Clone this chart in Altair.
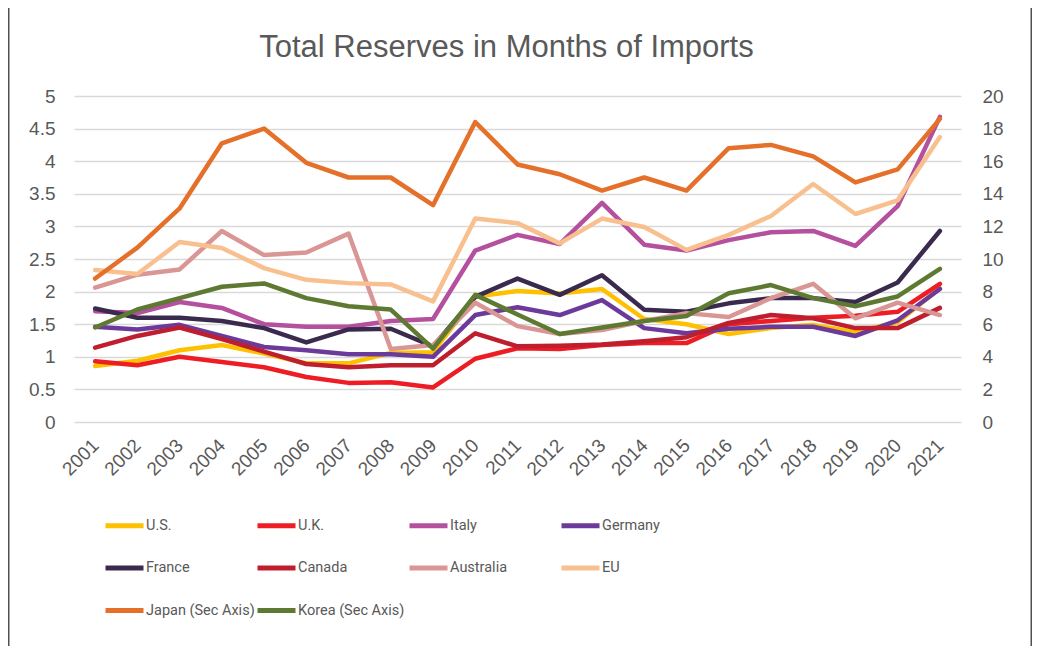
import altair as alt
import pandas as pd

years = [str(y) for y in range(2001, 2022)]

countries = ["U.S.", "U.K.", "Italy", "Germany", "France", "Canada",
             "Australia", "EU", "Japan (Sec Axis)", "Korea (Sec Axis)"]
colors = ["#FFC000", "#EE1D24", "#B4509E", "#6B3A9A", "#3A2B4E", "#BE1E2D",
          "#D99694", "#F9C08F", "#E4702A", "#5E7A32"]

us = [0.86, 0.94, 1.10, 1.18, 1.05, 0.90, 0.90, 1.06, 1.07, 1.92, 2.01, 1.97, 2.04, 1.58, 1.50, 1.35, 1.44, 1.49, 1.38, 1.53, 2.05]
uk = [0.93, 0.87, 1.00, 0.92, 0.84, 0.69, 0.60, 0.61, 0.53, 0.97, 1.13, 1.12, 1.18, 1.21, 1.21, 1.50, 1.55, 1.60, 1.63, 1.69, 2.12]
italy = [1.70, 1.67, 1.84, 1.75, 1.50, 1.46, 1.46, 1.55, 1.58, 2.63, 2.87, 2.73, 3.36, 2.72, 2.63, 2.79, 2.91, 2.93, 2.70, 3.31, 4.68]
germany = [1.46, 1.42, 1.49, 1.32, 1.15, 1.10, 1.04, 1.04, 1.00, 1.64, 1.76, 1.64, 1.87, 1.44, 1.36, 1.43, 1.46, 1.46, 1.32, 1.56, 2.04]
france = [1.74, 1.60, 1.60, 1.55, 1.44, 1.22, 1.42, 1.43, 1.16, 1.92, 2.20, 1.95, 2.25, 1.72, 1.69, 1.82, 1.90, 1.90, 1.84, 2.14, 2.93]
canada = [1.14, 1.32, 1.45, 1.27, 1.08, 0.89, 0.84, 0.87, 0.87, 1.36, 1.16, 1.17, 1.19, 1.24, 1.30, 1.52, 1.64, 1.59, 1.44, 1.44, 1.75]
australia = [2.06, 2.26, 2.34, 2.93, 2.56, 2.60, 2.89, 1.12, 1.18, 1.83, 1.47, 1.35, 1.41, 1.55, 1.67, 1.61, 1.90, 2.12, 1.59, 1.83, 1.64]
eu = [2.33, 2.27, 2.76, 2.67, 2.36, 2.18, 2.13, 2.11, 1.85, 3.12, 3.05, 2.74, 3.12, 2.99, 2.64, 2.87, 3.16, 3.65, 3.19, 3.40, 4.37]
japan = [8.8, 10.7, 13.1, 17.1, 18.0, 15.9, 15.0, 15.0, 13.3, 18.4, 15.8, 15.2, 14.2, 15.0, 14.2, 16.8, 17.0, 16.3, 14.7, 15.5, 18.6]
korea = [5.8, 6.9, 7.6, 8.3, 8.5, 7.6, 7.1, 6.9, 4.5, 7.8, 6.6, 5.4, 5.8, 6.2, 6.5, 7.9, 8.4, 7.6, 7.1, 7.7, 9.4]

left_ticks = [0, 0.5, 1, 1.5, 2, 2.5, 3, 3.5, 4, 4.5, 5]
right_ticks = [0, 2, 4, 6, 8, 10, 12, 14, 16, 18, 20]

primary = {"U.S.": us, "U.K.": uk, "Italy": italy, "Germany": germany,
           "France": france, "Canada": canada, "Australia": australia, "EU": eu}
secondary = {"Japan (Sec Axis)": japan, "Korea (Sec Axis)": korea}


def to_frame(series):
    rows = []
    for name, vals in series.items():
        for yr, v in zip(years, vals):
            rows.append({"year": yr, "country": name, "value": v})
    return pd.DataFrame(rows)


df_p = to_frame(primary)
df_s = to_frame(secondary)

TEXT = "#595959"
FONT = "Liberation Sans"

color = alt.Color(
    "country:N",
    title=None,
    scale=alt.Scale(domain=countries, range=colors),
    legend=alt.Legend(
        orient="none", legendX=29, legendY=408, columns=4, direction="horizontal",
        gridAlign="all",
        symbolType="stroke", symbolSize=1444, symbolStrokeWidth=5,
        labelFont="Roboto", labelFontSize=14.5, labelColor=TEXT,
        labelOffset=0, columnPadding=-13, rowPadding=10.5, padding=0, labelLimit=400,
    ),
)

xenc = alt.X(
    "year:O",
    sort=years,
    scale=alt.Scale(type="point", padding=0.5),
    axis=alt.Axis(title=None, labelAngle=-45, labelAlign="right", labelBaseline="middle",
                  labelPadding=20, ticks=False, domain=False, grid=False,
                  labelFont=FONT, labelFontSize=19, labelColor=TEXT),
)

line_kw = dict(strokeWidth=4.5, strokeJoin="round", strokeCap="round")

left = alt.Chart(df_p).mark_line(**line_kw).encode(
    x=xenc,
    y=alt.Y("value:Q", scale=alt.Scale(domain=[0, 5], nice=False),
            axis=alt.Axis(title=None, orient="left", values=left_ticks, format=".1~f",
                          grid=True, gridColor="#D9D9D9", gridWidth=1.5, domain=False,
                          ticks=False, labelPadding=19, labelFont=FONT, labelFontSize=19,
                          labelColor=TEXT)),
    color=color,
)

right = alt.Chart(df_s).mark_line(**line_kw).encode(
    x=xenc,
    y=alt.Y("value:Q", scale=alt.Scale(domain=[0, 20], nice=False),
            axis=alt.Axis(title=None, orient="right", values=right_ticks, grid=False,
                          domain=False, ticks=False, labelPadding=21, labelFont=FONT,
                          labelFontSize=19, labelColor=TEXT)),
    color=color,
)

# thin outer chart border (left and right edges of the chart box)
frame = alt.Chart(pd.DataFrame({"k": [0]})).mark_rect(
    fillOpacity=0, stroke="#505050", strokeWidth=1.5
).encode(
    x=alt.value(-65.25), x2=alt.value(957.25), y=alt.value(-100), y2=alt.value(570)
)

chart = alt.layer(frame, left, right).resolve_scale(y="independent").properties(
    width=887,
    height=326,
    title=alt.TitleParams(
        "Total Reserves in Months of Imports", font=FONT, fontSize=31,
        fontWeight="normal", color=TEXT, anchor="middle", frame="group",
        baseline="alphabetic", offset=-93, dx=-11,
    ),
    padding={"left": 66, "top": 88, "right": 71, "bottom": 224},
    autosize=alt.AutoSizeParams(type="none"),
).configure_view(strokeWidth=0)

chart.save("out.html", embed_options={"renderer": "svg", "actions": False})
